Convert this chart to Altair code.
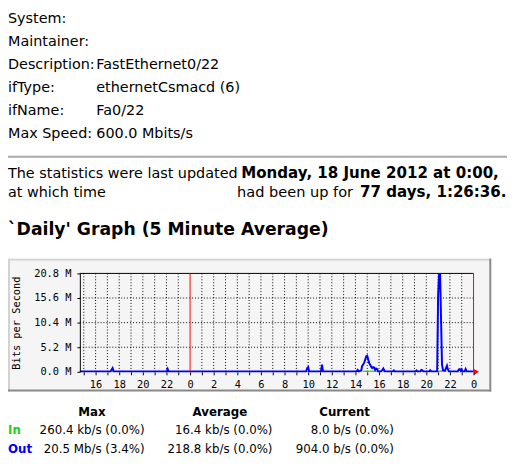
import altair as alt
import pandas as pd

# ---------------- data ----------------
info_labels = ["System:", "Maintainer:", "Description:", "ifType:", "ifName:", "Max Speed:"]
info_values = ["", "", "FastEthernet0/22", "ethernetCsmacd (6)", "Fa0/22", "600.0 Mbits/s"]
update_line = ["The statistics were last updated", "Monday, 18 June 2012 at 0:00,"]
uptime_line = ["at which time", "had been up for", "77 days, 1:26:36."]
graph_title = "`Daily' Graph (5 Minute Average)"
y_axis_title = "Bits per Second"
stat_headers = ["Max", "Average", "Current"]
stat_rows = ["In", "Out"]
in_stats = ["260.4 kb/s (0.0%)", "16.4 kb/s (0.0%)", "8.0 b/s (0.0%)"]
out_stats = ["20.5 Mb/s (3.4%)", "218.8 kb/s (0.0%)", "904.0 b/s (0.0%)"]

y_ticks = [0.0, 5.2, 10.4, 15.6, 20.8]           # Mbit/s
hour_ticks = list(range(-9, 25))                  # hours relative to midnight 17 June
midnight_marks = [0, 24]

# Out (blue) traffic, Mbit/s, hours relative to 17 June 0:00
out_hours = [-9.33, -6.72, -6.64, -6.56, -6.48, -1.98, -1.9, -1.82,
             9.83, 9.92, 10.0, 10.08, 11.08, 11.17, 11.25,
             14.1, 14.19, 14.28, 14.5, 14.56, 14.67, 14.75, 14.83, 14.92, 15.0, 15.08,
             15.17, 15.25, 15.33, 15.42, 15.5, 15.58, 15.67, 15.75, 15.83, 15.92,
             16.17, 16.28, 16.36, 16.44, 16.5, 17.17, 17.25, 17.33,
             19.08, 19.17, 19.25, 19.5, 19.58, 19.67, 19.75, 20.25, 20.33, 20.42,
             20.92, 21.0, 21.08, 21.17, 21.25, 21.33, 21.42, 21.58, 21.67, 21.75, 21.83, 21.92,
             22.67, 22.75, 22.83, 22.92, 23.0, 23.08, 23.25, 23.33, 23.42, 24.0]
out_mbps = [0.1, 0.1, 0.5, 0.8, 0.1, 0.1, 0.6, 0.1,
            0.1, 0.8, 1.0, 0.1, 0.1, 1.5, 0.1,
            0.1, 0.4, 0.1, 0.3, 1.2, 1.6, 2.0, 2.6, 3.3, 3.4, 2.6,
            1.8, 1.5, 1.1, 0.8, 1.0, 0.9, 0.4, 0.7, 0.6, 0.1,
            0.1, 0.4, 0.7, 0.3, 0.1, 0.1, 0.3, 0.1,
            0.1, 0.3, 0.1, 0.1, 0.4, 0.3, 0.1, 0.1, 0.35, 0.1,
            0.1, 16.0, 20.5, 20.5, 11.0, 1.5, 0.3, 0.2, 0.8, 1.3, 0.5, 0.1,
            0.1, 0.5, 0.6, 0.2, 0.5, 0.1, 0.1, 0.6, 0.1, 0.1]

# In (green) traffic, Mbit/s
in_hours = [-9.33, -6.62, -6.56, -6.5, -1.96, -1.9, -1.84, 9.9, 9.96, 10.04,
            11.1, 11.17, 11.25, 14.6, 14.7, 15.0, 15.5, 15.8, 15.9,
            16.3, 16.36, 16.44, 19.55, 19.6, 19.7,
            21.0, 21.08, 21.33, 21.42, 21.7, 21.75, 21.8, 24.0]
in_mbps = [0.02, 0.02, 0.3, 0.02, 0.02, 0.3, 0.02, 0.02, 0.3, 0.02,
           0.02, 0.3, 0.02, 0.02, 0.25, 0.3, 0.25, 0.25, 0.02,
           0.02, 0.25, 0.02, 0.02, 0.25, 0.02,
           0.02, 0.3, 0.3, 0.02, 0.02, 0.25, 0.02, 0.02]

# ---------------- layout helpers (page pixels) ----------------
PX0, PY0 = 81, 274          # page position of plot origin
PW, PH = 400, 100
FONT = "DejaVu Sans"
MONO = "DejaVu Sans Mono"
one = alt.Data(values=[{}])
xscale = alt.Scale(domain=[-9.333, 24], nice=False, zero=False)
yscale = alt.Scale(domain=[0, 20.8], nice=False, zero=False)

xaxis = alt.Axis(
    values=hour_ticks, grid=False, domain=False, ticks=True, tickColor="black", tickSize=3,
    labelExpr="datum.value % 2 == 0 ? '' + ((datum.value + 24) % 24) : ''",
    labelFont=MONO, labelFontSize=10.5, labelColor="black", labelPadding=5,
    labelFlush=False, labelOverlap=False, labelBound=False, title=None, zindex=1)
yaxis = alt.Axis(
    values=y_ticks, grid=False, domain=True, domainColor="black", tickColor="black", tickSize=3,
    labelExpr="format(datum.value, '.1f') + ' M'",
    labelFont=MONO, labelFontSize=10.5, labelColor="black", labelPadding=6,
    title=y_axis_title, titleFont=MONO, titleFontSize=10.5, titleFontWeight="normal",
    titleColor="black", titlePadding=12, zindex=1)


def X(field):
    return alt.X(field, scale=xscale, axis=xaxis)


def Y(field):
    return alt.Y(field, scale=yscale, axis=yaxis)


def rx(px):
    return px - PX0


def ry(py):
    return py - PY0


def text(s, px, py, size=14.6, bold=False, align="left", color="black"):
    return alt.Chart(one).mark_text(
        text=s, align=align, baseline="alphabetic", font=FONT, fontSize=size,
        fontWeight="bold" if bold else "normal", color=color
    ).encode(x=alt.value(rx(px)), y=alt.value(ry(py)))


def box(x1, y1, x2, y2, color):
    return alt.Chart(one).mark_rect(color=color, opacity=1).encode(
        x=alt.value(rx(x1)), x2=alt.value(rx(x2)), y=alt.value(ry(y1)), y2=alt.value(ry(y2)))


layers = []

# header info block
info_base = [19.3, 43.0, 66.5, 89.5, 113.0, 136.5]
for lab, val, b in zip(info_labels, info_values, info_base):
    layers.append(text(lab, 8, b))
    if val:
        layers.append(text(val, 97.7, b))

# separator rule
layers.append(box(8, 154.5, 515, 156.5, "#a9a9a9"))

# update lines
layers.append(text(update_line[0], 8, 177.3))
layers.append(text(update_line[1], 245, 177.3, size=15.3, bold=True))
layers.append(text(uptime_line[0], 8, 196))
layers.append(text(uptime_line[1], 240.7, 196, size=14.8))
layers.append(text(uptime_line[2], 365.7, 196, size=15.3, bold=True))

# graph title
layers.append(text(graph_title, 8, 235, size=17.5, bold=True))

# graph image background with border
layers.append(box(8, 259, 499, 394, "#f5f5f5"))
layers.append(box(8, 259, 499, 261, "#d2d2d2"))
layers.append(box(8, 259, 10, 394, "#d2d2d2"))
layers.append(box(8, 392, 499, 394, "#8a8a8a"))
layers.append(box(497, 259, 499, 394, "#8a8a8a"))

# vertical dotted grid (hours)
vgrid = pd.DataFrame({"h": [h for h in hour_ticks if h not in midnight_marks]})
layers.append(alt.Chart(vgrid).mark_rule(color="black", strokeDash=[1, 2], strokeWidth=1).encode(
    x=X("h:Q"), y=alt.value(0), y2=alt.value(PH)))

# horizontal dotted grid
hgrid = pd.DataFrame({"v": y_ticks[1:-1]})
layers.append(alt.Chart(hgrid).mark_rule(color="black", strokeDash=[1, 2], strokeWidth=1).encode(
    y=Y("v:Q"), x=alt.value(0), x2=alt.value(PW)))
# top solid line
top = pd.DataFrame({"v": y_ticks[-1:]})
layers.append(alt.Chart(top).mark_rule(color="black", strokeWidth=1).encode(
    y=Y("v:Q"), x=alt.value(0), x2=alt.value(PW)))

# In area (green)
df_in = pd.DataFrame({"h": in_hours, "v": in_mbps})
layers.append(alt.Chart(df_in).mark_area(color="#00cc00", opacity=1).encode(
    x=X("h:Q"), y=Y("v:Q")))

# Out line (blue)
df_out = pd.DataFrame({"h": out_hours, "v": out_mbps})
layers.append(alt.Chart(df_out).mark_line(color="#0000ff", strokeWidth=2).encode(
    x=X("h:Q"), y=Y("v:Q")))

# red midnight / now lines
mid = pd.DataFrame({"h": midnight_marks})
layers.append(alt.Chart(mid).mark_rule(color="#ff0000", strokeWidth=1).encode(
    x=X("h:Q"), y=alt.value(0), y2=alt.value(PH)))
# red arrow at the end of the time axis
layers.append(alt.Chart(one).mark_point(shape="triangle-right", filled=True, color="#ff0000",
                                         opacity=1, size=35, xOffset=3).encode(
    x=alt.datum(midnight_marks[-1], scale=xscale, axis=xaxis),
    y=alt.datum(y_ticks[0], scale=yscale, axis=yaxis)))

# stats table
col_centers = [93.3, 223.3, 350]
col_rights = [146.7, 276.7, 400]
for hname, c in zip(stat_headers, col_centers):
    layers.append(text(hname, c, 419.3, size=12, bold=True, align="center"))
layers.append(text(stat_rows[0], 14.5, 437.3, size=12, bold=True, align="center", color="#22cc22"))
layers.append(text(stat_rows[1], 8, 456.7, size=12, bold=True, align="left", color="#0000ff"))
for s, r in zip(in_stats, col_rights):
    layers.append(text(s, r, 437.3, size=12, align="right"))
for s, r in zip(out_stats, col_rights):
    layers.append(text(s, r, 456.7, size=12, align="right"))

chart = alt.layer(*layers).properties(
    width=PW, height=PH,
    padding={"left": PX0 - 8, "top": PY0 - 8, "right": 507 - (PX0 - 8) - PW, "bottom": 458 - (PY0 - 8) - PH},
    autosize=alt.AutoSizeParams(type="none"),
    background="white",
).configure_view(stroke=None)

chart.save("out.html", embed_options={"renderer": "svg", "actions": False})
